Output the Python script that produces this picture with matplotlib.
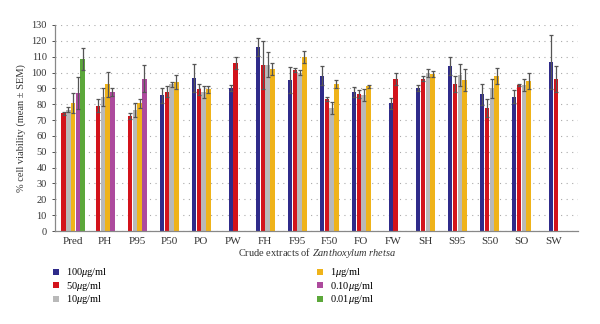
import numpy as np
import matplotlib
matplotlib.use("Agg")
from matplotlib import pyplot as plt

plt.rcParams['font.family'] = ['Liberation Serif', 'DejaVu Serif']
plt.rcParams['mathtext.fontset'] = 'custom'
plt.rcParams['mathtext.rm'] = 'Liberation Serif'
plt.rcParams['mathtext.it'] = 'Liberation Serif:italic'

nan = np.nan
extracts = ['Pred', 'PH', 'P95', 'P50', 'PO', 'PW', 'FH', 'F95', 'F50', 'FO',
            'FW', 'SH', 'S95', 'S50', 'SO', 'SW']
doses = ['100$\\mathit{\\mu}$g/ml', '50$\\mathit{\\mu}$g/ml', '10$\\mathit{\\mu}$g/ml',
         '1$\\mathit{\\mu}$g/ml', '0.10$\\mathit{\\mu}$g/ml', '0.01$\\mathit{\\mu}$g/ml']
colors = ['#2f2b8a', '#d3131b', '#b9b9b9', '#efb31a', '#ad4a9d', '#5ca83b']

# mean viability per dose (rows) for each extract (columns)
v100 = [nan, nan, nan, 85.5, 96.5, 90.2, 115.9, 95.2, 97.8, 87.7, 80.5, 90.2, 104.0, 86.4, 84.7, 106.4]
v50 = [74.3, 79.0, 72.5, 88.0, 89.3, 106.0, 104.7, 101.6, 83.2, 86.4, 96.0, 96.0, 93.0, 77.5, 92.1, 96.0]
v10 = [76.6, 84.5, 76.5, 92.5, 87.9, nan, 105.0, 99.9, 77.7, 85.8, nan, 99.5, 98.6, 90.2, 92.1, nan]
v1 = [81.0, 92.5, 80.5, 94.0, 89.3, nan, 102.2, 109.8, 92.9, 91.2, nan, 99.0, 95.2, 97.8, 94.6, nan]
v010 = [87.0, 87.5, 96.0, nan, nan, nan, nan, nan, nan, nan, nan, nan, nan, nan, nan, nan]
v001 = [108.3, nan, nan, nan, nan, nan, nan, nan, nan, nan, nan, nan, nan, nan, nan, nan]

# SEM
e100 = [nan, nan, nan, 4.5, 9.0, 1.8, 5.7, 8.0, 6.0, 3.2, 3.5, 1.8, 5.5, 6.6, 4.0, 17.0]
e50 = [1.0, 4.0, 2.0, 3.5, 3.2, 4.0, 15.0, 1.0, 1.2, 2.5, 4.0, 1.6, 5.0, 5.5, 0.6, 8.0]
e10 = [1.5, 5.5, 4.5, 1.5, 3.7, nan, 8.0, 1.4, 4.0, 4.0, nan, 2.5, 7.0, 6.0, 4.0, nan]
e1 = [6.3, 8.0, 3.0, 4.5, 2.3, nan, 4.0, 4.0, 2.5, 1.2, nan, 2.0, 7.0, 5.3, 5.0, nan]
e010 = [10.0, 2.5, 8.5, nan, nan, nan, nan, nan, nan, nan, nan, nan, nan, nan, nan, nan]
e001 = [7.0, nan, nan, nan, nan, nan, nan, nan, nan, nan, nan, nan, nan, nan, nan, nan]

means = np.array([v100, v50, v10, v1, v010, v001])
sems = np.array([e100, e50, e10, e1, e010, e001])

fig = plt.figure(figsize=(6, 3.24), dpi=100)
ax = fig.add_axes([0.092, 0.287, 0.872, 0.636])

width = 0.14
step = 0.15
for j in range(len(extracts)):
    present = [i for i in range(len(doses)) if not np.isnan(means[i, j])]
    n = len(present)
    for k, i in enumerate(present):
        x = j + (k - (n - 1) / 2) * step
        ax.bar(x, means[i, j], width=width, color=colors[i], zorder=2)
        ax.errorbar(x, means[i, j], yerr=sems[i, j], color='#555555', lw=0.9,
                    capsize=1.6, capthick=0.9, zorder=3)

for i in range(len(doses)):
    ax.bar([0], [0], color=colors[i], label=doses[i])

ax.set_xlim(-0.56, 15.78)
ax.set_ylim(0, 130)
ax.set_yticks(range(0, 131, 10))
ax.set_xticks(range(len(extracts)))
ax.set_xticklabels(extracts, fontsize=8)
ax.tick_params(axis='x', length=0, pad=4, colors='#333333')
ax.tick_params(axis='y', labelsize=7.5, length=2.5, colors='#333333', width=0.6)
ax.yaxis.grid(True, linestyle=(0, (1, 4)), color='#aaaaaa', lw=0.8, zorder=0)
ax.set_axisbelow(True)
for s in ['top', 'right']:
    ax.spines[s].set_visible(False)
for s in ['left', 'bottom']:
    ax.spines[s].set_color('#888888')
    ax.spines[s].set_linewidth(0.9)

ax.set_ylabel('% cell viability (mean ± SEM)', fontsize=7.5, color='#333333', labelpad=4)
ax.set_xlabel('Crude extracts of $\\mathit{Zanthoxylum\\ rhetsa}$', fontsize=7.5,
              color='#333333', labelpad=0)

fig.legend(loc='upper left', bbox_to_anchor=(0.088, 0.178), ncol=2, frameon=False,
           fontsize=7.5, handlelength=0.55, handleheight=0.55, handletextpad=0.7,
           columnspacing=20.1, labelspacing=0.05, borderaxespad=0, borderpad=0)

fig.savefig('out.png', dpi=100)
